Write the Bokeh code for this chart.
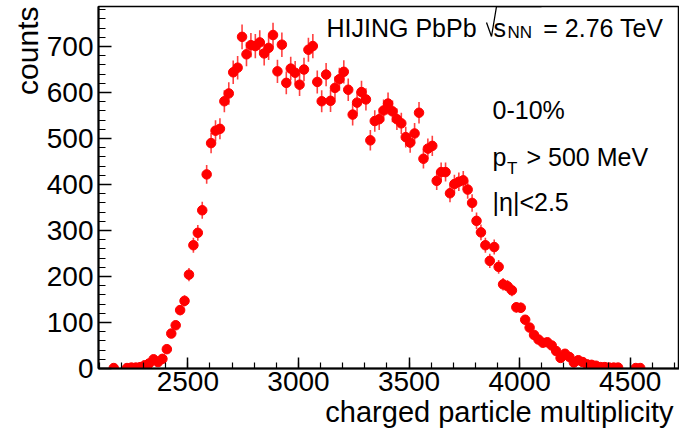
import numpy as np
from bokeh.plotting import figure
from bokeh.models import FixedTicker, Label, Title, PolyAnnotation, ColumnDataSource, Range1d
from bokeh.embed import file_html
from bokeh.resources import INLINE

# ---- data (histogram, 20-unit bins) ----
bin_first_center = 2165
bin_width = 20
counts = [1, 0, 0, 1, 2, 2, 3, 7, 11, 20,
          14, 21, 42, 76, 94, 127, 147, 204, 268, 295,
          344, 422, 490, 517, 521, 581, 598, 644, 654, 721,
          683, 703, 701, 709, 685, 697, 725, 646, 704, 621,
          652, 643, 617, 650, 693, 701, 623, 581, 639, 582,
          610, 629, 645, 606, 552, 578, 601, 585, 496, 538,
          542, 561, 576, 559, 542, 533, 503, 491, 511, 556,
          456, 478, 484, 408, 427, 427, 381, 401, 406, 409,
          389, 360, 321, 296, 268, 234, 264, 221, 183, 179,
          170, 133, 132, 106, 89, 73, 63, 56, 57, 50,
          38, 23, 32, 25, 13, 18, 14, 9, 8, 6,
          3, 3, 2, 2, 2, 0, 0, 0, 1, 1]
x_major = [2500, 3000, 3500, 4000, 4500]
x_minor = list(range(2100, 4800, 100))
y_major = [0, 100, 200, 300, 400, 500, 600, 700]
y_minor = list(range(0, 800, 20))

centers = bin_first_center + bin_width * np.arange(len(counts))
c = np.array(counts, dtype=float)
m = c > 0
err = np.sqrt(c)
src = ColumnDataSource(dict(x=centers[m], y=c[m], lo=(c - err)[m], hi=(c + err)[m]))

FONT = "Liberation Sans"
RED = "#ff0000"

p = figure(width=679, height=435, x_range=Range1d(2096, 4722.6), y_range=Range1d(0, 787),
           output_backend="svg", toolbar_location=None,
           min_border_left=98, min_border_right=0, min_border_top=6, min_border_bottom=67)
p.background_fill_color = "white"
p.border_fill_color = "white"
p.outline_line_color = "black"
p.outline_line_width = 1.5
p.xgrid.visible = False
p.ygrid.visible = False

p.segment(x0="x", y0="lo", x1="x", y1="hi", source=src, line_color=RED, line_width=1.6, line_alpha=0.75)
p.scatter(x="x", y="y", source=src, size=9.5, marker="circle", fill_color=RED, line_color=RED)

for ax in (p.xaxis[0], p.yaxis[0]):
    ax.axis_line_width = 2
    ax.axis_line_color = "black"
    ax.major_tick_out = 0
    ax.minor_tick_out = 0
    ax.major_tick_line_color = "black"
    ax.minor_tick_line_color = "black"
    ax.major_tick_line_width = 1.5
    ax.minor_tick_line_width = 1.2
    ax.major_label_text_font = FONT
    ax.major_label_text_font_size = "28px"
    ax.major_label_text_color = "black"

p.xaxis.ticker = FixedTicker(ticks=x_major, minor_ticks=x_minor)
p.yaxis.ticker = FixedTicker(ticks=y_major, minor_ticks=y_minor)
p.xaxis.major_tick_in = 11
p.xaxis.minor_tick_in = 6
p.yaxis.major_tick_in = 13
p.yaxis.minor_tick_in = 7
p.xaxis.major_label_standoff = 3
p.yaxis.major_label_standoff = 5

# axis titles (ROOT style: right / top aligned)
p.add_layout(Title(text="counts", align="right", text_font=FONT, text_font_size="30px",
                   text_font_style="normal", text_color="black", standoff=0, offset=0), "left")
p.add_layout(Title(text="charged particle multiplicity", align="right", text_font=FONT,
                   text_font_size="29px", text_font_style="normal", text_color="black",
                   standoff=0, offset=6), "below")


DX = -5  # horizontal correction for screen-unit labels
DY = 9   # vertical correction for screen-unit annotations


def lab(x, y, text, size, align="left"):
    p.add_layout(Label(x=x + DX, y=y + DY, x_units="screen", y_units="screen", text=text,
                       text_font=FONT, text_font_size=size, text_align=align,
                       text_baseline="alphabetic", text_color="black"))


# header
lab(233, 331.3, "HIJING PbPb", "25px")
p.add_layout(PolyAnnotation(xs=[388, 393, 398, 443, 398, 393],
                            ys=[337 + DY, 323 + DY, 353 + DY, 353 + DY, 353 + DY, 323 + DY],
                            xs_units="screen", ys_units="screen",
                            fill_alpha=0, line_color="black", line_alpha=1.0, line_width=1.3))
lab(400, 331.3, "s", "25px")
lab(414, 327, "NN", "17px")
lab(570, 331.3, "= 2.76 TeV", "25px", align="right")

# cuts
lab(399, 249.7, "0-10%", "25px")
lab(399, 203, "p", "25px")
lab(413.5, 191.3, "T", "17px")
lab(433, 203, "> 500 MeV", "25px")
lab(399, 158, "|\u03b7|<2.5", "25px")

open("out.html", "w").write(file_html(p, INLINE))
